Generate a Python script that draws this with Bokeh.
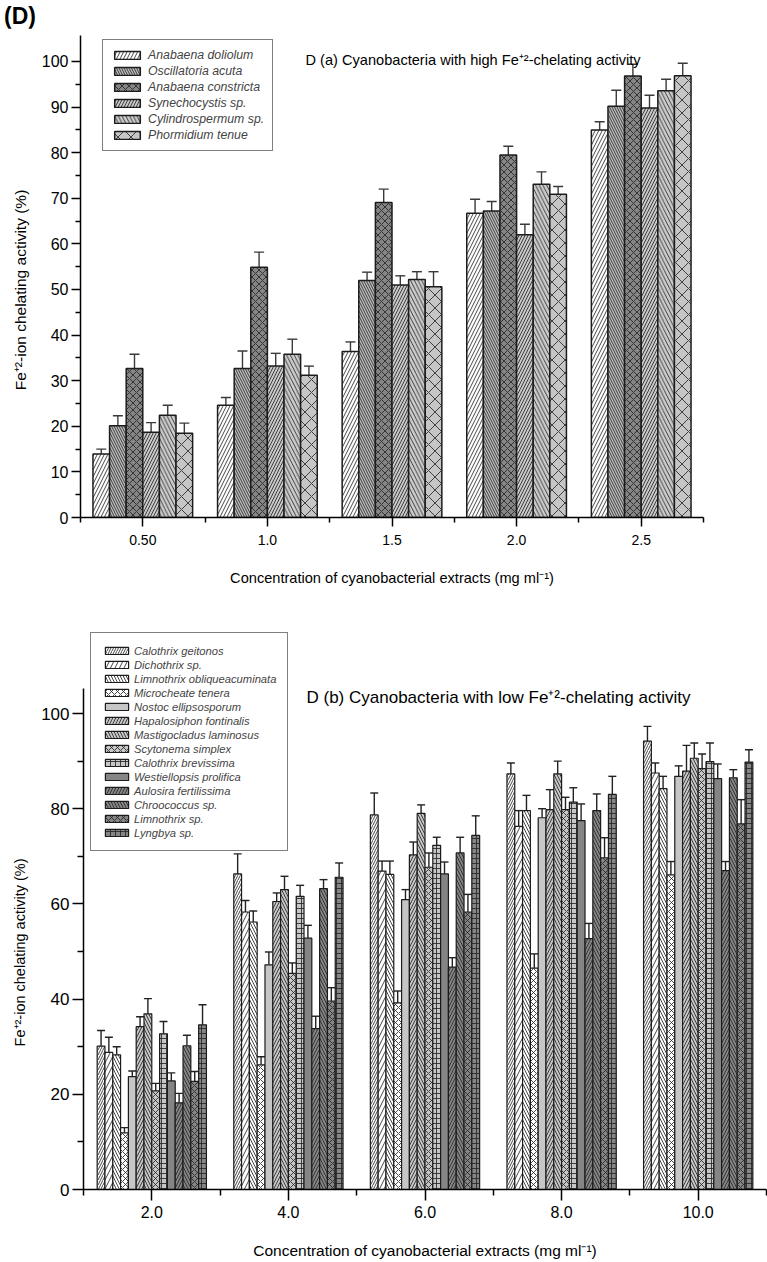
import numpy as np
from math import pi
from bokeh.plotting import figure
from bokeh.models import (ColumnDataSource, Range1d, FixedTicker, Legend, LegendItem,
                          Label, Whisker, TeeHead, Div)
from bokeh.layouts import column, row
from bokeh.embed import file_html
from bokeh.resources import INLINE

FONT = "Liberation Sans"

# ---------------- Panel D(a): high Fe2+-chelating activity ----------------
conc_a = ["0.50", "1.0", "1.5", "2.0", "2.5"]
species_a = ["Anabaena doliolum", "Oscillatoria acuta", "Anabaena constricta",
             "Synechocystis sp.", "Cylindrospermum sp.", "Phormidium tenue"]
a_doliolum      = [13.9, 24.6, 36.4, 66.7, 85.0]
a_oscillatoria  = [20.1, 32.7, 52.0, 67.2, 90.2]
a_constricta    = [32.7, 54.9, 69.1, 79.5, 96.8]
a_synechocystis = [18.7, 33.2, 51.0, 62.0, 89.8]
a_cylindro      = [22.4, 35.8, 52.2, 73.1, 93.6]
a_phormidium    = [18.5, 31.2, 50.6, 70.9, 96.9]
e_doliolum      = [1.1, 1.7, 2.1, 3.1, 1.8]
e_oscillatoria  = [2.2, 3.8, 1.8, 2.1, 3.5]
e_constricta    = [3.1, 3.3, 2.9, 1.9, 2.6]
e_synechocystis = [2.1, 2.8, 2.0, 2.3, 2.8]
e_cylindro      = [2.2, 3.3, 1.7, 2.7, 2.5]
e_phormidium    = [2.2, 2.0, 3.3, 1.7, 2.7]
yticks_a = [0, 10, 20, 30, 40, 50, 60, 70, 80, 90, 100]

# ---------------- Panel D(b): low Fe2+-chelating activity ----------------
conc_b = ["2.0", "4.0", "6.0", "8.0", "10.0"]
species_b = ["Calothrix geitonos", "Dichothrix sp.", "Limnothrix obliqueacuminata",
             "Microcheate tenera", "Nostoc ellipsosporum", "Hapalosiphon fontinalis",
             "Mastigocladus laminosus", "Scytonema simplex", "Calothrix brevissima",
             "Westiellopsis prolifica", "Aulosira fertilissima", "Chroococcus sp.",
             "Limnothrix sp.", "Lyngbya sp."]
b_cal_geit   = [30.1, 66.3, 78.7, 87.3, 94.2]
b_dichothrix = [28.8, 58.3, 66.9, 76.3, 87.5]
b_limno_obl  = [28.3, 56.2, 66.2, 79.6, 84.2]
b_microch    = [11.9, 26.2, 39.2, 46.5, 66.1]
b_nostoc     = [23.7, 47.2, 60.9, 78.1, 86.8]
b_hapalo     = [34.2, 60.5, 70.3, 79.8, 87.9]
b_mastigo    = [36.9, 63.0, 79.0, 87.3, 90.6]
b_scytonema  = [20.7, 45.4, 67.7, 79.8, 88.4]
b_cal_brev   = [32.7, 61.6, 72.3, 81.4, 89.9]
b_westiell   = [22.8, 52.8, 66.3, 77.5, 86.3]
b_aulosira   = [18.2, 33.8, 46.7, 52.7, 67.0]
b_chroococ   = [30.2, 63.2, 70.7, 79.6, 86.5]
b_limno_sp   = [22.7, 39.6, 58.3, 69.7, 76.8]
b_lyngbya    = [34.6, 65.6, 74.4, 83.0, 89.8]
eb_cal_geit   = [3.3, 4.2, 4.6, 2.3, 3.1]
eb_dichothrix = [3.2, 2.4, 2.1, 3.3, 2.1]
eb_limno_obl  = [1.7, 2.3, 2.8, 3.2, 2.6]
eb_microch    = [1.1, 1.7, 2.5, 3.0, 2.8]
eb_nostoc     = [1.2, 2.7, 2.1, 1.9, 2.2]
eb_hapalo     = [2.1, 1.8, 2.7, 4.2, 5.4]
eb_mastigo    = [3.2, 2.8, 1.8, 2.7, 3.2]
eb_scytonema  = [1.6, 2.2, 3.0, 2.6, 3.1]
eb_cal_brev   = [2.6, 2.3, 1.7, 3.0, 3.9]
eb_westiell   = [1.7, 2.7, 2.5, 3.5, 3.1]
eb_aulosira   = [2.0, 2.6, 2.0, 3.2, 1.9]
eb_chroococ   = [2.2, 1.9, 3.3, 3.5, 1.7]
eb_limno_sp   = [2.1, 2.8, 3.7, 4.2, 5.1]
eb_lyngbya    = [4.2, 3.0, 4.1, 3.8, 2.6]
yticks_b = [0, 20, 40, 60, 80, 100]

vals_a = [a_doliolum, a_oscillatoria, a_constricta, a_synechocystis, a_cylindro, a_phormidium]
errs_a = [e_doliolum, e_oscillatoria, e_constricta, e_synechocystis, e_cylindro, e_phormidium]
vals_b = [b_cal_geit, b_dichothrix, b_limno_obl, b_microch, b_nostoc, b_hapalo, b_mastigo,
          b_scytonema, b_cal_brev, b_westiell, b_aulosira, b_chroococ, b_limno_sp, b_lyngbya]
errs_b = [eb_cal_geit, eb_dichothrix, eb_limno_obl, eb_microch, eb_nostoc, eb_hapalo, eb_mastigo,
          eb_scytonema, eb_cal_brev, eb_westiell, eb_aulosira, eb_chroococ, eb_limno_sp, eb_lyngbya]

YTITLE = "Fe\u207a\u00b2-ion chelating activity (%)"
XTITLE = "Concentration of cyanobacterial extracts (mg ml\u207b\u00b9)"

# styles (fill, hatch pattern, hatch spacing)
LG, DG = "#c6c6c6", "#858585"
styles_a = [("white", "/", 7), ("#bcbcbc", "\\", 5), (DG, "x", 7),
            ("#c8c8c8", "/", 6), ("#cccccc", "\\", 7.5), (LG, "x", 13)]
styles_b = [("white", "/", 5), ("white", "/", 9), ("white", "\\", 6), ("white", "x", 6),
            (LG, None, 6), (LG, "/", 6), (LG, "\\", 6), (LG, "x", 6), (LG, "+", 5),
            (DG, None, 6), (DG, "/", 6), (DG, "\\", 6), (DG, "x", 6), (DG, "+", 5)]


def add_bars(p, vals, errs, names, styles, group_w, tee, line_w, err_color):
    n = len(names)
    bw = group_w / n
    items = []
    for i in range(n):
        xs = np.arange(1, len(vals[i]) + 1) + (-group_w / 2 + bw * (i + 0.5))
        top = np.array(vals[i], float)
        src = ColumnDataSource(dict(x=xs, top=top, upper=top + np.array(errs[i], float)))
        fill, hatch, scale = styles[i]
        r = p.vbar(x="x", top="top", bottom=0, width=bw, source=src,
                   fill_color=fill, line_color="#1c1c1c", line_width=line_w,
                   hatch_pattern=hatch, hatch_scale=scale, hatch_weight=0.85,
                   hatch_color="#262626")
        p.add_layout(Whisker(source=src, base="x", upper="upper", lower="top",
                             dimension="height", line_color=err_color, line_width=1.4,
                             upper_head=TeeHead(size=tee, line_color=err_color, line_width=1.4),
                             lower_head=None))
        items.append(LegendItem(label=names[i], renderers=[r]))
    return items


def style_axes(p, xt_size, yt_size, xlab_size, major_out, minor_out, xstand, xlab_stand):
    p.xgrid.visible = False
    p.ygrid.visible = False
    p.outline_line_color = None
    for ax in (p.xaxis[0], p.yaxis[0]):
        ax.axis_line_color = "black"
        ax.axis_line_width = 1.5
        ax.major_tick_line_color = "black"
        ax.minor_tick_line_color = "black"
        ax.major_tick_line_width = 1.5
        ax.minor_tick_line_width = 1.5
        ax.major_tick_in = 0
        ax.minor_tick_in = 0
        ax.major_tick_out = major_out
        ax.minor_tick_out = minor_out
        ax.major_label_text_font = FONT
        ax.major_label_text_color = "black"
    p.xaxis.major_label_text_font_size = xt_size
    p.yaxis.major_label_text_font_size = yt_size
    p.xaxis.major_label_standoff = xstand
    p.yaxis.major_label_standoff = 3
    p.xaxis.axis_label = XTITLE
    p.xaxis.axis_label_text_font = FONT
    p.xaxis.axis_label_text_font_style = "normal"
    p.xaxis.axis_label_text_font_size = xlab_size
    p.xaxis.axis_label_text_color = "black"
    p.xaxis.axis_label_standoff = xlab_stand


def side_panel(h, yr):
    # narrow strip left of the plot; its frame is aligned with the plot's frame
    s = figure(width=38, height=h, x_range=Range1d(0, 38), y_range=yr,
               x_axis_type=None, y_axis_type=None, min_border=0,
               toolbar_location=None, output_backend="svg")
    s.outline_line_color = None
    s.grid.visible = False
    return s


# ---------------- panel letter ----------------
HD = 28
head = Div(text="<div style=\"font-family:'Liberation Sans',Arial,sans-serif;font-weight:bold;"
                "font-size:23px;line-height:23px;padding:5px 0 0 4px;color:black;\">(D)</div>",
           width=767, height=HD, margin=(0, 0, 0, 0))

# ---------------- figure (a) ----------------
HA = 605 - HD
pa = figure(width=729, height=HA, x_range=Range1d(0.5, 5.5), y_range=Range1d(0, 105.7),
            output_backend="svg", toolbar_location=None,
            min_border_left=39, min_border_right=64, min_border_top=35 - HD,
            min_border_bottom=88)
items_a = add_bars(pa, vals_a, errs_a, species_a, styles_a, 0.8, 10, 1.5, "#3a3a3a")
style_axes(pa, "14px", "16px", "14.6px", 9, 5, 8, 22)
pa.xaxis.ticker = FixedTicker(ticks=[1, 2, 3, 4, 5], minor_ticks=[0.5, 1.5, 2.5, 3.5, 4.5, 5.5])
pa.xaxis.major_label_overrides = {i + 1: c for i, c in enumerate(conc_a)}
pa.yaxis.ticker = FixedTicker(ticks=yticks_a, minor_ticks=[t + 5 for t in yticks_a[:-1]])
pa.add_layout(Legend(items=items_a, location=(22, 366), margin=0, padding=8,
                     label_text_font=FONT, label_text_font_style="italic",
                     label_text_font_size="12.3px", glyph_width=32, glyph_height=10,
                     label_height=12, label_standoff=5, spacing=2,
                     border_line_color="black", border_line_width=1.2,
                     background_fill_color="white", background_fill_alpha=1.0))
pa.add_layout(Label(x=225, y=458, x_units="screen", y_units="screen",
                    text="D (a) Cyanobacteria with high Fe\u207a\u00b2-chelating activity",
                    text_font=FONT, text_font_size="14.6px", text_baseline="middle",
                    text_color="black"))

sa = side_panel(HA, pa.y_range)
sa.add_layout(Label(x=20, y=49.9, angle=pi / 2, text=YTITLE, text_font=FONT,
                    text_font_size="15.5px", text_align="center", text_baseline="middle",
                    text_color="black"))

# ---------------- figure (b) ----------------
HB = 657
pb = figure(width=729, height=HB, x_range=Range1d(0.5, 5.5),
            y_range=Range1d(0, 579 / 4.76), output_backend="svg", toolbar_location=None,
            min_border_left=44, min_border_right=1, min_border_top=5, min_border_bottom=73)
items_b = add_bars(pb, vals_b, errs_b, species_b, styles_b, 0.8, 8, 1.2, "#222222")
style_axes(pb, "16px", "17px", "15.5px", 11, 6, 5, 21)
pb.yaxis.bounds = (0, 105.25)
pb.xaxis.ticker = FixedTicker(ticks=[1, 2, 3, 4, 5], minor_ticks=[0.5, 1.5, 2.5, 3.5, 4.5, 5.5])
pb.xaxis.major_label_overrides = {i + 1: c for i, c in enumerate(conc_b)}
pb.yaxis.ticker = FixedTicker(ticks=yticks_b, minor_ticks=[t + 10 for t in yticks_b[:-1]])
pb.add_layout(Legend(items=items_b, location=(7, 338), margin=0, padding=11,
                     label_text_font=FONT, label_text_font_style="italic",
                     label_text_font_size="11.2px", glyph_width=29, glyph_height=9,
                     label_height=13, label_standoff=3, spacing=1,
                     border_line_color="black", border_line_width=1.2,
                     background_fill_color="white", background_fill_alpha=1.0))
pb.add_layout(Label(x=223, y=492, x_units="screen", y_units="screen",
                    text="D (b) Cyanobacteria with low Fe\u207a\u00b2-chelating activity",
                    text_font=FONT, text_font_size="17px", text_baseline="middle",
                    text_color="black"))

sb = side_panel(HB, pb.y_range)
sb.add_layout(Label(x=19, y=49.8, angle=pi / 2, text=YTITLE, text_font=FONT,
                    text_font_size="14.5px", text_align="center", text_baseline="middle",
                    text_color="black"))

layout = column(head, row(sa, pa, spacing=0), row(sb, pb, spacing=0), spacing=0)
open("out.html", "w").write(file_html(layout, INLINE))
